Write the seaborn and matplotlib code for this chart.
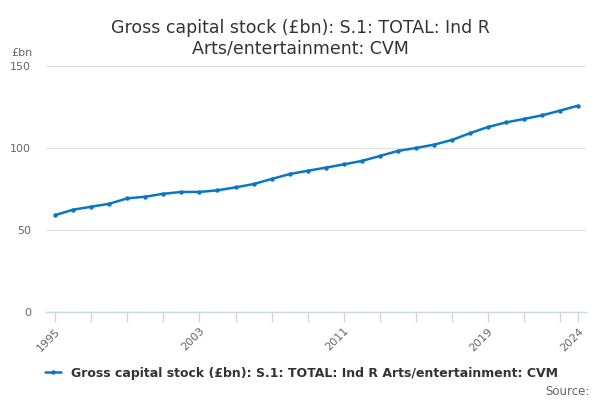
import matplotlib
matplotlib.use("Agg")
import matplotlib.pyplot as plt
import seaborn as sns
import pandas as pd

years = list(range(1995, 2025))
values = [59.1, 62.4, 64.2, 66.0, 69.3, 70.3, 72.1, 73.2, 73.2, 74.2,
          76.0, 78.0, 81.1, 84.1, 86.1, 88.0, 90.0, 92.1, 95.1, 98.2,
          100.0, 102.0, 104.9, 109.0, 112.8, 115.6, 117.7, 119.9, 122.8, 125.8]
series_name = "Gross capital stock (£bn): S.1: TOTAL: Ind R Arts/entertainment: CVM"
title = "Gross capital stock (£bn): S.1: TOTAL: Ind R\nArts/entertainment: CVM"
x_labels = [1995, 2003, 2011, 2019, 2024]
y_ticks = [0, 50, 100, 150]

df = pd.DataFrame({"year": years, "value": values})

sns.set_theme(style="white")
plt.rcParams['font.family'] = ['DejaVu Sans']

fig = plt.figure(figsize=(6, 4), dpi=100)
ax = fig.add_axes([0.077, 0.22, 0.9, 0.615])
color = "#0b77c4"
sns.lineplot(data=df, x="year", y="value", ax=ax, color=color, linewidth=1.8,
             marker="o", markersize=3.2, markeredgewidth=0, label=series_name, legend=False)

ax.set_xlim(1994.5, 2024.45)
ax.set_ylim(0, 150)
ax.set_yticks(y_ticks)
ax.set_yticklabels([str(v) for v in y_ticks], color="#666666", fontsize=8)
ax.yaxis.grid(True, color="#e0e0e0", linewidth=0.9)
ax.tick_params(axis="y", length=0, pad=11)

minor = list(range(1995, 2024, 2)) + [2024]
ax.set_xticks(minor)
ax.set_xticklabels([str(y) if y in x_labels else "" for y in minor],
                   rotation=45, ha="right", rotation_mode="anchor", color="#666666", fontsize=8)
ax.tick_params(axis="x", length=7, width=1, color="#ccd6eb", pad=3, direction="out", bottom=True)

for s in ["top", "right", "left"]:
    ax.spines[s].set_visible(False)
ax.spines["bottom"].set_color("#ccd6eb")
ax.spines["bottom"].set_linewidth(1)
ax.set_xlabel("")
ax.set_ylabel("")

fig.text(0.5, 0.905, title, ha="center", va="center", fontsize=12.5, color="#333333",
         linespacing=1.15)
fig.text(0.019, 0.868, "£bn", ha="left", va="center", fontsize=8, color="#666666")

# legend
fig.legend(handles=ax.get_lines(), labels=[series_name], loc="center",
           bbox_to_anchor=(0.502, 0.067), frameon=False, handlelength=1.3,
           prop={"weight": "bold", "size": 9}, labelcolor="#333333")
fig.text(0.982, 0.022, "Source:", ha="right", va="center", fontsize=8.5, color="#666666")

fig.savefig("out.png", dpi=100)
